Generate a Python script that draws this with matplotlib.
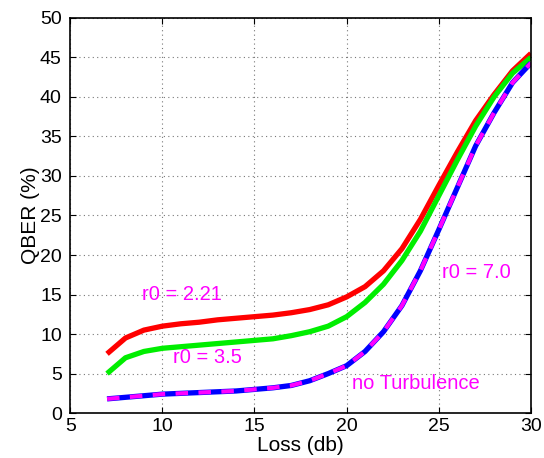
import numpy as np
import matplotlib
matplotlib.use("Agg")
import matplotlib.pyplot as plt

plt.rcParams['font.family'] = ['Liberation Sans', 'DejaVu Sans']

loss = [7, 8, 9, 10, 11, 12, 13, 14, 15, 16, 17, 18, 19, 20, 21, 22, 23, 24, 25, 26, 27, 28, 29, 30]
qber_r221 = [7.5, 9.5, 10.5, 11.0, 11.3, 11.5, 11.8, 12.0, 12.2, 12.4, 12.7, 13.1, 13.7, 14.7,
             16.0, 18.0, 20.8, 24.5, 28.8, 33.0, 37.0, 40.3, 43.3, 45.5]
qber_r35 = [5.0, 7.0, 7.8, 8.2, 8.4, 8.6, 8.8, 9.0, 9.2, 9.4, 9.8, 10.3, 11.0, 12.2,
            14.0, 16.3, 19.3, 23.0, 27.5, 32.0, 36.3, 40.0, 43.0, 45.0]
qber_r70 = [1.8, 2.0, 2.2, 2.4, 2.5, 2.6, 2.7, 2.8, 3.0, 3.2, 3.5, 4.1, 5.0, 6.0,
            7.8, 10.3, 13.6, 18.0, 23.2, 28.5, 33.8, 38.0, 41.8, 44.3]
qber_noturb = qber_r70

fig = plt.figure(figsize=(5.44, 4.58), dpi=100)
ax = fig.add_axes([0.129, 0.098, 0.847, 0.863])

ax.plot(loss, qber_r221, color='#ff0000', lw=3.8, solid_capstyle='butt')
ax.plot(loss, qber_r35, color='#00ee00', lw=3.8, solid_capstyle='butt')
ax.plot(loss, qber_noturb, color='#0000ff', lw=3.8, solid_capstyle='butt')
ax.plot(loss, qber_r70, color='#ff00ff', lw=3.0, ls=(0, (3, 2.5)))

ax.set_xlim(5, 30)
ax.set_ylim(0, 50)
ax.set_xticks(range(5, 31, 5))
ax.set_yticks(range(0, 51, 5))
ax.grid(True, ls=(0, (1, 3)), color='#777777', lw=0.8)
ax.tick_params(direction='in', top=True, right=True, labelsize=14, length=4)
ax.tick_params(axis='y', pad=6)
for s in ax.spines.values():
    s.set_linewidth(1.2)

ax.set_xlabel('Loss (db)', fontsize=15, labelpad=1)
ax.set_ylabel('QBER (%)', fontsize=15, labelpad=0)

mag = '#ff00ff'
ax.text(8.9, 15.0, 'r0 = 2.21', color=mag, fontsize=14.5, va='center')
ax.text(10.6, 7.0, 'r0 = 3.5', color=mag, fontsize=14.5, va='center')
ax.text(25.2, 17.8, 'r0 = 7.0', color=mag, fontsize=14.5, va='center')
ax.text(20.3, 3.8, 'no Turbulence', color=mag, fontsize=14.5, va='center')

fig.savefig('out.png', dpi=100)
